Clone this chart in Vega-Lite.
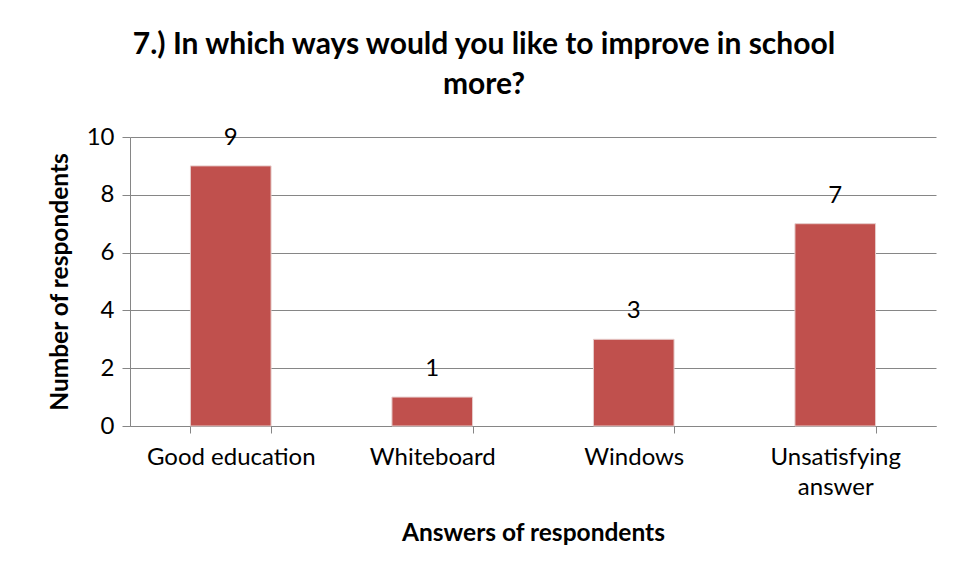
{
  "$schema": "https://vega.github.io/schema/vega-lite/v6.json",
  "width": 806,
  "height": 289,
  "autosize": {"type": "none"},
  "padding": {"left": 130, "top": 137, "right": 18, "bottom": 155},
  "background": "white",
  "title": {
    "text": ["7.) In which ways would you like to improve in school", "more?"],
    "font": "Lato",
    "fontSize": 30,
    "fontWeight": "bold",
    "color": "black",
    "anchor": "middle",
    "dx": -49,
    "lineHeight": 40,
    "offset": 25
  },
  "data": {
    "values": [
      {"answer": "Good education", "count": 9},
      {"answer": "Whiteboard", "count": 1},
      {"answer": "Windows", "count": 3},
      {"answer": "Unsatisfying answer", "count": 7}
    ]
  },
  "encoding": {
    "x": {
      "field": "answer",
      "type": "nominal",
      "sort": null,
      "scale": {"paddingInner": 0.6, "paddingOuter": 0.3},
      "axis": {
        "title": "Answers of respondents",
        "titleFont": "Lato",
        "titleFontSize": 24.5,
        "titleFontWeight": "bold",
        "titleColor": "black",
        "titlePadding": 22,
        "labelFont": "Lato",
        "labelFontSize": 24,
        "labelColor": "black",
        "labelAngle": 0,
        "labelPadding": 12,
        "labelLineHeight": 30,
        "labelExpr": "datum.label == 'Unsatisfying answer' ? ['Unsatisfying', 'answer'] : datum.label",
        "tickBand": "extent",
        "tickSize": 7,
        "tickColor": "#868686",
        "domainColor": "#868686",
        "grid": false
      }
    },
    "y": {
      "field": "count",
      "type": "quantitative",
      "scale": {"domain": [0, 10]},
      "axis": {
        "title": "Number of respondents",
        "titleFont": "Lato",
        "titleFontSize": 24.5,
        "titleFontWeight": "bold",
        "titleColor": "black",
        "titlePadding": 14,
        "labelFont": "Lato",
        "labelFontSize": 24,
        "labelColor": "black",
        "labelPadding": 8,
        "values": [0, 2, 4, 6, 8, 10],
        "tickSize": 8,
        "tickColor": "#868686",
        "domainColor": "#868686",
        "gridColor": "#868686",
        "gridOpacity": 1
      }
    }
  },
  "layer": [
    {
      "mark": {"type": "bar", "color": "#C0504D", "stroke": "#e6cccb", "strokeWidth": 1}
    },
    {
      "mark": {"type": "text", "font": "Lato", "fontSize": 24, "color": "black", "baseline": "alphabetic", "dy": -21},
      "encoding": {"text": {"field": "count", "type": "quantitative"}}
    }
  ],
  "config": {
    "view": {"stroke": null}
  }
}
